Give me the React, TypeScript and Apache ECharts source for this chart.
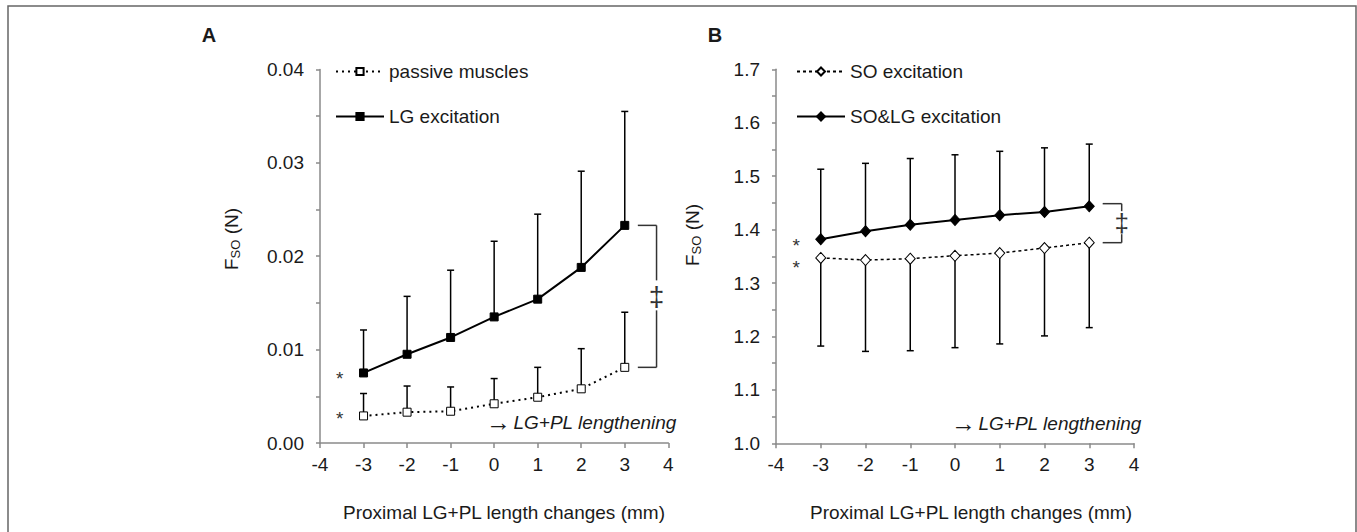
import React, { useEffect, useRef } from "react";
import * as echarts from "echarts";

const xValues = [-3, -2, -1, 0, 1, 2, 3];
const xTicks = [-4, -3, -2, -1, 0, 1, 2, 3, 4];

// Panel A
const passiveMean = [0.0029, 0.0033, 0.0034, 0.0042, 0.0049, 0.0058, 0.0081];
const passiveUpper = [0.0053, 0.0061, 0.006, 0.0069, 0.0081, 0.0101, 0.014];
const lgMean = [0.0075, 0.0095, 0.0113, 0.0135, 0.0154, 0.0188, 0.0233];
const lgUpper = [0.0121, 0.0157, 0.0185, 0.0216, 0.0245, 0.0291, 0.0355];

// Panel B
const soMean = [1.347, 1.343, 1.3455, 1.351, 1.356, 1.3655, 1.3755];
const soLower = [1.182, 1.172, 1.1733, 1.179, 1.186, 1.201, 1.2165];
const solgMean = [1.382, 1.397, 1.409, 1.418, 1.427, 1.433, 1.4435];
const solgUpper = [1.513, 1.524, 1.533, 1.54, 1.5465, 1.553, 1.56];

const FONT = "'Liberation Sans', Arial, sans-serif";
const FS = 19;
const TXT = "#1a1a1a";
const AX = "#8a8a8a";

function pairs(ys: number[]) {
  return xValues.map((x, i) => [x, ys[i]]);
}
function errData(mean: number[], end: number[]) {
  return xValues.map((x, i) => [x, mean[i], end[i]]);
}

const errRender = (params: any, api: any) => {
  const x = api.value(0);
  const m = api.value(1);
  const e = api.value(2);
  const p1 = api.coord([x, m]);
  const p2 = api.coord([x, e]);
  const cw = 3.5;
  return {
    type: "group",
    children: [
      { type: "line", shape: { x1: p1[0], y1: p1[1], x2: p2[0], y2: p2[1] }, style: { stroke: "#000", lineWidth: 1.5 } },
      { type: "line", shape: { x1: p2[0] - cw, y1: p2[1], x2: p2[0] + cw, y2: p2[1] }, style: { stroke: "#000", lineWidth: 1.5 } },
    ],
  };
};

function xAxisCfg(gridIndex: number) {
  return {
    type: "value",
    gridIndex,
    min: -4,
    max: 4,
    interval: 1,
    axisLine: { show: true, onZero: false, lineStyle: { color: AX, width: 1.5 } },
    axisTick: { show: true, length: 5, lineStyle: { color: AX, width: 1.5 } },
    splitLine: { show: false },
    axisLabel: {
      color: TXT,
      fontFamily: FONT,
      fontSize: FS,
      margin: 12,
      formatter: (v: number) => (xTicks.includes(v) ? String(v) : ""),
    },
  };
}

function yAxisCfg(gridIndex: number, min: number, max: number, interval: number, fmt: (v: number) => string) {
  return {
    type: "value",
    gridIndex,
    min,
    max,
    interval,
    axisLine: { show: true, onZero: false, lineStyle: { color: AX, width: 1.5 } },
    axisTick: { show: true, length: 4, lineStyle: { color: AX, width: 1.5 } },
    splitLine: { show: false },
    axisLabel: { color: TXT, fontFamily: FONT, fontSize: FS, margin: 16, formatter: fmt },
  };
}

export default function App() {
  const ref = useRef<HTMLDivElement>(null);
  useEffect(() => {
    if (!ref.current) return;
    const chart = echarts.init(ref.current, null, { renderer: "svg" });
    const legendCfg = (data: string[], left: number, ih: number) => ({
      data,
      orient: "vertical",
      left,
      top: 57,
      itemWidth: 48,
      itemHeight: ih,
      itemGap: 26,
      textStyle: { color: TXT, fontFamily: FONT, fontSize: FS },
      selectedMode: false,
    });
    const option: any = {
      animation: false,
      backgroundColor: "#fff",
      grid: [
        { left: 320, top: 69.4, width: 348.3, height: 373.6 },
        { left: 776, top: 69.3, width: 358, height: 374 },
      ],
      xAxis: [xAxisCfg(0), xAxisCfg(1)],
      yAxis: [
        yAxisCfg(0, 0, 0.04, 0.005, (v: number) => (Math.round(v * 1000) % 10 === 0 ? v.toFixed(2) : "")),
        yAxisCfg(1, 1.0, 1.7, 0.05, (v: number) => (Math.round(v * 100) % 10 === 0 ? v.toFixed(1) : "")),
      ],
      legend: [
        legendCfg(["passive muscles", "LG excitation"], 330, 9),
        legendCfg(["SO excitation", "SO&LG excitation"], 791, 10),
      ],
      series: [
        {
          type: "custom",
          xAxisIndex: 0,
          yAxisIndex: 0,
          renderItem: errRender,
          data: errData(passiveMean, passiveUpper),
          z: 1,
          silent: true,
        },
        {
          type: "custom",
          xAxisIndex: 0,
          yAxisIndex: 0,
          renderItem: errRender,
          data: errData(lgMean, lgUpper),
          z: 1,
          silent: true,
        },
        {
          name: "passive muscles",
          type: "line",
          xAxisIndex: 0,
          yAxisIndex: 0,
          data: pairs(passiveMean),
          symbol: "rect",
          symbolSize: 8,
          itemStyle: { color: "#fff", borderColor: "#000", borderWidth: 1 },
          lineStyle: { color: "#000", width: 2, type: [2, 4] },
          z: 3,
        },
        {
          name: "LG excitation",
          type: "line",
          xAxisIndex: 0,
          yAxisIndex: 0,
          data: pairs(lgMean),
          symbol: "rect",
          symbolSize: 8,
          itemStyle: { color: "#000", borderColor: "#000", borderWidth: 1 },
          lineStyle: { color: "#000", width: 2 },
          z: 3,
        },
        {
          type: "custom",
          xAxisIndex: 1,
          yAxisIndex: 1,
          renderItem: errRender,
          data: errData(soMean, soLower),
          z: 1,
          silent: true,
        },
        {
          type: "custom",
          xAxisIndex: 1,
          yAxisIndex: 1,
          renderItem: errRender,
          data: errData(solgMean, solgUpper),
          z: 1,
          silent: true,
        },
        {
          name: "SO excitation",
          type: "line",
          xAxisIndex: 1,
          yAxisIndex: 1,
          data: pairs(soMean),
          symbol: "diamond",
          symbolSize: [10, 11],
          itemStyle: { color: "#fff", borderColor: "#000", borderWidth: 1 },
          lineStyle: { color: "#000", width: 1.5, type: [3, 3] },
          z: 3,
        },
        {
          name: "SO&LG excitation",
          type: "line",
          xAxisIndex: 1,
          yAxisIndex: 1,
          data: pairs(solgMean),
          symbol: "diamond",
          symbolSize: [10, 11],
          itemStyle: { color: "#000", borderColor: "#000", borderWidth: 1 },
          lineStyle: { color: "#000", width: 2 },
          z: 3,
        },
      ],
    };
    chart.setOption(option);

    const px = (g: number, x: number, y: number) => chart.convertToPixel({ gridIndex: g } as any, [x, y]) as number[];
    const lineEl = (x1: number, y1: number, x2: number, y2: number) => ({
      type: "line",
      shape: { x1, y1, x2, y2 },
      style: { stroke: "#333", lineWidth: 1.5 },
      z: 10,
    });

    const aTop = px(0, 3.3, lgMean[6]);
    const aTopR = px(0, 3.73, lgMean[6]);
    const aBot = px(0, 3.3, passiveMean[6]);
    const aMidY = (aTop[1] + aBot[1]) / 2;
    const bTop = px(1, 3.3, solgMean[6] + 0.005);
    const bTopR = px(1, 3.725, solgMean[6] + 0.005);
    const bBot = px(1, 3.3, soMean[6]);
    const bMidY = (bTop[1] + bBot[1]) / 2;

    const aStar1 = px(0, -3.55, lgMean[0]);
    const aStar2 = px(0, -3.55, passiveMean[0]);
    const bStar1 = px(1, -3.55, solgMean[0]);
    const bStar2 = px(1, -3.55, soMean[0]);

    const textEl = (x: number, y: number, text: string, extra: any = {}) => ({
      type: "text",
      x,
      y,
      z: 10,
      style: {
        text,
        fill: TXT,
        font: `${FS}px ${FONT}`,
        align: "center",
        verticalAlign: "middle",
        ...extra,
      },
    });

    const star = (x: number, y: number) => textEl(x, y, "*", { font: `19px ${FONT}`, fill: "#333" });

    const yTitle = (x: number, y: number) => ({
      type: "text",
      x,
      y,
      rotation: Math.PI / 2,
      z: 10,
      style: {
        text: "{a|F}{b|SO}{a| (N)}",
        align: "center",
        verticalAlign: "middle",
        rich: {
          a: { fontSize: FS, fontFamily: FONT, fill: TXT, lineHeight: 21 },
          b: { fontSize: 13, fontFamily: FONT, fill: TXT, lineHeight: 13, verticalAlign: "bottom" },
        },
      },
    });

    const lengthening = (x: number, y: number) => ({
      type: "text",
      x,
      y,
      z: 10,
      style: {
        text: "{arr|\u2192}{sp| }{t|LG+PL lengthening}",
        align: "left",
        verticalAlign: "middle",
        rich: {
          arr: { fontSize: 25, fontFamily: FONT, fill: TXT, lineHeight: 22 },
          sp: { fontSize: 9, fontFamily: FONT, fill: TXT },
          t: { fontSize: FS, fontFamily: FONT, fontStyle: "italic", fill: TXT, lineHeight: 22 },
        },
      },
    });

    const dagger = (x: number, y: number, size: number) =>
      textEl(x, y, "\u2021", { font: `${size}px ${FONT}`, fill: "#333" });

    chart.setOption({
      graphic: [
        {
          type: "rect",
          shape: { x: 8, y: 6, width: 1348, height: 540 },
          style: { fill: "none", stroke: "#666", lineWidth: 1.5 },
          z: 0,
        },
        textEl(209, 35, "A", { font: `bold 20px ${FONT}` }),
        textEl(715, 35, "B", { font: `bold 20px ${FONT}` }),
        yTitle(231, 239),
        yTitle(692, 235),
        textEl(504, 512, "Proximal LG+PL length changes (mm)"),
        textEl(971, 512, "Proximal LG+PL length changes (mm)"),
        lengthening(486, 422),
        lengthening(951, 423),
        star(aStar1[0], aStar1[1] + 6),
        star(aStar2[0], aStar2[1] + 3),
        star(bStar1[0], bStar1[1] + 6),
        star(bStar2[0], bStar2[1] + 10),
        // Bracket A
        lineEl(aTop[0], aTop[1], aTopR[0], aTop[1]),
        lineEl(aBot[0], aBot[1], aTopR[0], aBot[1]),
        lineEl(aTopR[0], aTop[1], aTopR[0], aMidY - 16),
        lineEl(aTopR[0], aMidY + 14, aTopR[0], aBot[1]),
        dagger(aTopR[0], aMidY, 28),
        // Bracket B
        lineEl(bTop[0], bTop[1], bTopR[0], bTop[1]),
        lineEl(bBot[0], bBot[1], bTopR[0], bBot[1]),
        lineEl(bTopR[0], bTop[1], bTopR[0], bMidY - 12),
        lineEl(bTopR[0], bMidY + 11, bTopR[0], bBot[1]),
        dagger(bTopR[0], bMidY, 26),
      ],
    });

    return () => chart.dispose();
  }, []);

  return (
    <div
      ref={ref}
      style={{ position: "fixed", left: 0, top: 0, width: 1357, height: 532 }}
    />
  );
}
